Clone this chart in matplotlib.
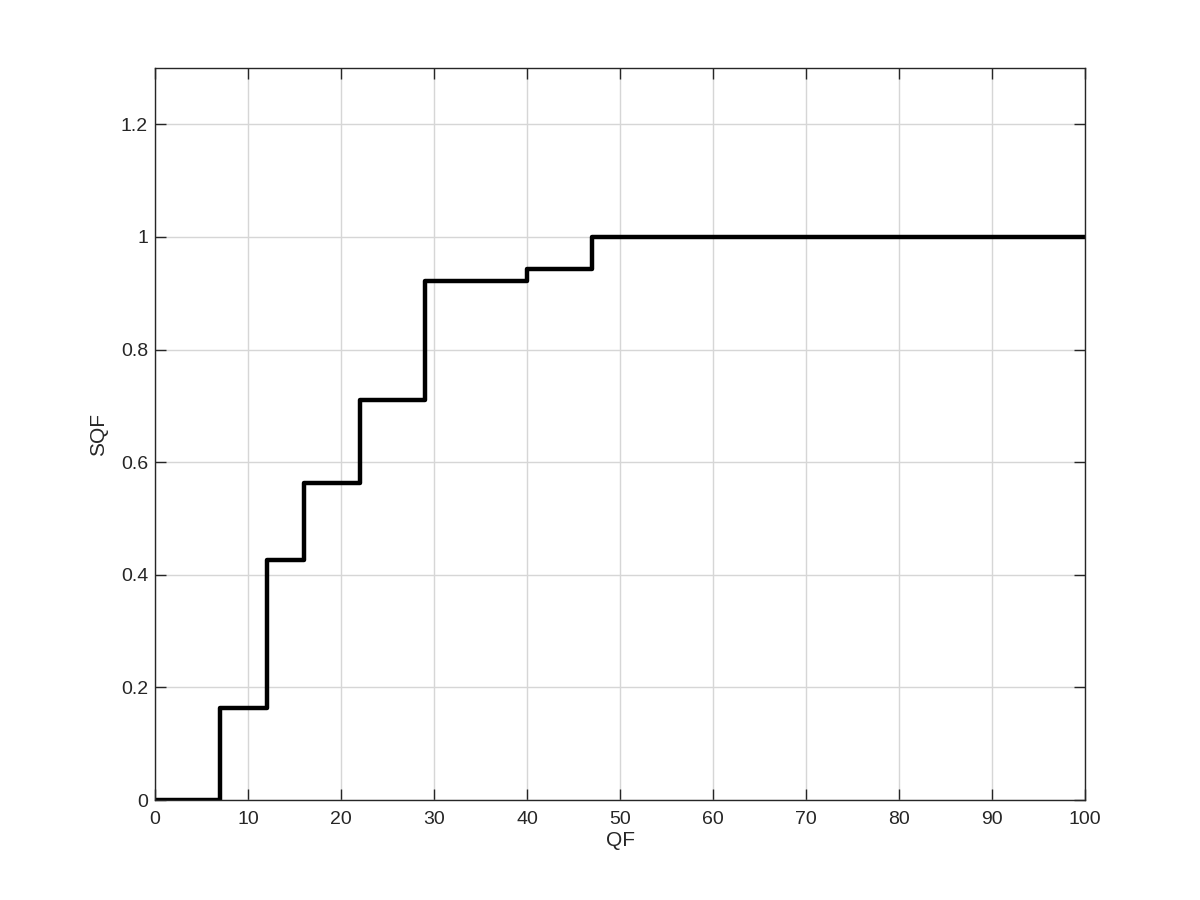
import matplotlib
matplotlib.use("Agg")
import matplotlib.pyplot as plt

# step points (QF where SQF jumps, and the new level)
qf = [0, 7, 12, 16, 22, 29, 40, 47, 100]
sqf = [0, 0.163, 0.426, 0.563, 0.711, 0.922, 0.943, 1.0, 1.0]

x_ticks = list(range(0, 101, 10))
y_ticks = [0, 0.2, 0.4, 0.6, 0.8, 1, 1.2]
y_labels = ["0", "0.2", "0.4", "0.6", "0.8", "1", "1.2"]

plt.rcParams['font.family'] = ['Liberation Sans', 'DejaVu Sans']

fig = plt.figure(figsize=(12, 9), dpi=100)
ax = fig.add_axes([0.1292, 0.1111, 0.775, 0.8133])

ax.step(qf, sqf, where='post', color='black', linewidth=3.2)

ax.set_xlim(0, 100)
ax.set_ylim(0, 1.3)
ax.set_xticks(x_ticks)
ax.set_yticks(y_ticks)
ax.set_yticklabels(y_labels)
ax.grid(True, color='#d6d6d6', linewidth=1)
ax.set_axisbelow(True)

ax.tick_params(direction='in', top=True, right=True, length=8, width=1,
               labelsize=14, colors='#262626')
ax.tick_params(axis='x', pad=8)
ax.tick_params(axis='y', pad=5)
for s in ax.spines.values():
    s.set_color('#262626')
    s.set_linewidth(1)

ax.set_xlabel("QF", fontsize=15, color='#262626', labelpad=2)
ax.set_ylabel("SQF", fontsize=15, color='#262626', labelpad=9)

fig.savefig("out.png", dpi=100)
